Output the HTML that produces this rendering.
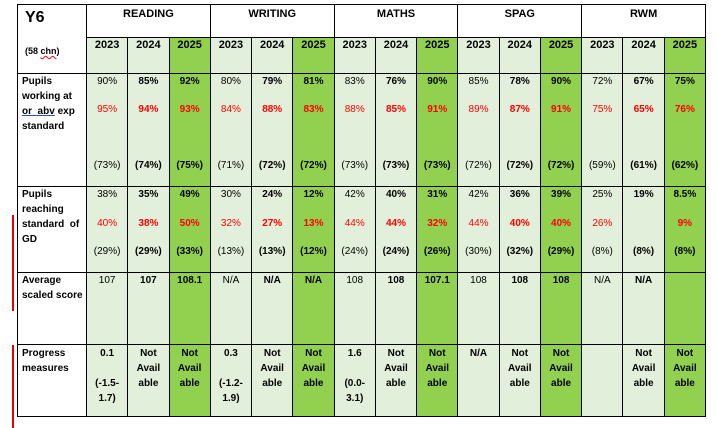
<!DOCTYPE html>
<html><head><meta charset="utf-8"><style>
body{margin:0;width:717px;height:428px;background:#fff;position:relative;font-family:"Liberation Sans",sans-serif;overflow:hidden}
table{position:absolute;left:17px;top:4px;border-collapse:collapse;table-layout:fixed;width:689px}
td{border:1px solid #000;padding:0;vertical-align:top;text-align:center;font-size:10px;line-height:15px;overflow:hidden}
.l{background:#E2EFDA}.g{background:#92D050}
.b{font-weight:bold}.r{color:#f00}
.h1 td{height:30px}.h2 td{height:35px}.r1 td{height:112px}.r2 td{height:85px}.r3 td{height:71px}.r4 td{height:70px}
.lab{text-align:left;padding-left:4px;font-weight:bold}
.vl{position:absolute;left:12px;width:2px;background:#e00}
</style></head><body>
<div class="vl" style="top:215px;height:96px"></div>
<div class="vl" style="top:345px;height:83px"></div>
<table>
<colgroup><col style="width:69px"><col span="15"></colgroup>
<tr class="h1"><td rowspan="2" class="lab" style="padding-left:7px"><div style="font-size:16px;line-height:20px;margin-top:3px">Y6</div><div style="font-size:9px;margin-top:16px">(58 <span style="text-decoration:underline wavy red">chn</span>)</div></td>
<td colspan="3" class="b" style="font-size:11px;padding-top:2px">READING</td><td colspan="3" class="b" style="font-size:11px;padding-top:2px">WRITING</td><td colspan="3" class="b" style="font-size:11px;padding-top:2px">MATHS</td><td colspan="3" class="b" style="font-size:11px;padding-top:2px">SPAG</td><td colspan="3" class="b" style="font-size:11px;padding-top:2px">RWM</td></tr>
<tr class="h2 b" style="font-size:11px"><td class="l b" style="font-size:11px">2023</td><td class="l b" style="font-size:11px">2024</td><td class="g b" style="font-size:11px">2025</td><td class="l b" style="font-size:11px">2023</td><td class="l b" style="font-size:11px">2024</td><td class="g b" style="font-size:11px">2025</td><td class="l b" style="font-size:11px">2023</td><td class="l b" style="font-size:11px">2024</td><td class="g b" style="font-size:11px">2025</td><td class="l b" style="font-size:11px">2023</td><td class="l b" style="font-size:11px">2024</td><td class="g b" style="font-size:11px">2025</td><td class="l b" style="font-size:11px">2023</td><td class="l b" style="font-size:11px">2024</td><td class="g b" style="font-size:11px">2025</td></tr>
<tr class="r1"><td class="lab">Pupils<br>working at<br><span style="text-decoration:underline;text-decoration-color:#2050d0">or &nbsp;abv</span> exp<br>standard</td>
<td class="l"><div>90%</div><div class="r" style="margin-top:13px">95%</div><div style="margin-top:41px">(73%)</div></td>
<td class="l b"><div>85%</div><div class="r" style="margin-top:13px">94%</div><div style="margin-top:41px">(74%)</div></td>
<td class="g b"><div>92%</div><div class="r" style="margin-top:13px">93%</div><div style="margin-top:41px">(75%)</div></td>
<td class="l"><div>80%</div><div class="r" style="margin-top:13px">84%</div><div style="margin-top:41px">(71%)</div></td>
<td class="l b"><div>79%</div><div class="r" style="margin-top:13px">88%</div><div style="margin-top:41px">(72%)</div></td>
<td class="g b"><div>81%</div><div class="r" style="margin-top:13px">83%</div><div style="margin-top:41px">(72%)</div></td>
<td class="l"><div>83%</div><div class="r" style="margin-top:13px">88%</div><div style="margin-top:41px">(73%)</div></td>
<td class="l b"><div>76%</div><div class="r" style="margin-top:13px">85%</div><div style="margin-top:41px">(73%)</div></td>
<td class="g b"><div>90%</div><div class="r" style="margin-top:13px">91%</div><div style="margin-top:41px">(73%)</div></td>
<td class="l"><div>85%</div><div class="r" style="margin-top:13px">89%</div><div style="margin-top:41px">(72%)</div></td>
<td class="l b"><div>78%</div><div class="r" style="margin-top:13px">87%</div><div style="margin-top:41px">(72%)</div></td>
<td class="g b"><div>90%</div><div class="r" style="margin-top:13px">91%</div><div style="margin-top:41px">(72%)</div></td>
<td class="l"><div>72%</div><div class="r" style="margin-top:13px">75%</div><div style="margin-top:41px">(59%)</div></td>
<td class="l b"><div>67%</div><div class="r" style="margin-top:13px">65%</div><div style="margin-top:41px">(61%)</div></td>
<td class="g b"><div>75%</div><div class="r" style="margin-top:13px">76%</div><div style="margin-top:41px">(62%)</div></td></tr>
<tr class="r2"><td class="lab">Pupils<br>reaching<br>standard &nbsp;of<br>GD</td>
<td class="l"><div>38%</div><div class="r" style="margin-top:14px">40%</div><div style="margin-top:13px">(29%)</div></td>
<td class="l b"><div>35%</div><div class="r" style="margin-top:14px">38%</div><div style="margin-top:13px">(29%)</div></td>
<td class="g b"><div>49%</div><div class="r" style="margin-top:14px">50%</div><div style="margin-top:13px">(33%)</div></td>
<td class="l"><div>30%</div><div class="r" style="margin-top:14px">32%</div><div style="margin-top:13px">(13%)</div></td>
<td class="l b"><div>24%</div><div class="r" style="margin-top:14px">27%</div><div style="margin-top:13px">(13%)</div></td>
<td class="g b"><div>12%</div><div class="r" style="margin-top:14px">13%</div><div style="margin-top:13px">(12%)</div></td>
<td class="l"><div>42%</div><div class="r" style="margin-top:14px">44%</div><div style="margin-top:13px">(24%)</div></td>
<td class="l b"><div>40%</div><div class="r" style="margin-top:14px">44%</div><div style="margin-top:13px">(24%)</div></td>
<td class="g b"><div>31%</div><div class="r" style="margin-top:14px">32%</div><div style="margin-top:13px">(26%)</div></td>
<td class="l"><div>42%</div><div class="r" style="margin-top:14px">44%</div><div style="margin-top:13px">(30%)</div></td>
<td class="l b"><div>36%</div><div class="r" style="margin-top:14px">40%</div><div style="margin-top:13px">(32%)</div></td>
<td class="g b"><div>39%</div><div class="r" style="margin-top:14px">40%</div><div style="margin-top:13px">(29%)</div></td>
<td class="l"><div>25%</div><div class="r" style="margin-top:14px">26%</div><div style="margin-top:13px">(8%)</div></td>
<td class="l b"><div>19%</div><div class="r" style="margin-top:14px">&nbsp;</div><div style="margin-top:13px">(8%)</div></td>
<td class="g b"><div>8.5%</div><div class="r" style="margin-top:14px">9%</div><div style="margin-top:13px">(8%)</div></td></tr>
<tr class="r3"><td class="lab">Average<br>scaled score</td>
<td class="l">107</td><td class="l b">107</td><td class="g b">108.1</td><td class="l">N/A</td><td class="l b">N/A</td><td class="g b">N/A</td><td class="l">108</td><td class="l b">108</td><td class="g b">107.1</td><td class="l">108</td><td class="l b">108</td><td class="g b">108</td><td class="l">N/A</td><td class="l b">N/A</td><td class="g"></td></tr>
<tr class="r4"><td class="lab" style="padding-top:1px">Progress<br>measures</td>
<td class="l b" style="padding-top:1px">0.1<br>&nbsp;<br>(-1.5-<br>1.7)</td><td class="l b" style="padding-top:1px">Not<br>Avail<br>able</td><td class="g b" style="padding-top:1px">Not<br>Avail<br>able</td>
<td class="l b" style="padding-top:1px">0.3<br>&nbsp;<br>(-1.2-<br>1.9)</td><td class="l b" style="padding-top:1px">Not<br>Avail<br>able</td><td class="g b" style="padding-top:1px">Not<br>Avail<br>able</td>
<td class="l b" style="padding-top:1px">1.6<br>&nbsp;<br>(0.0-<br>3.1)</td><td class="l b" style="padding-top:1px">Not<br>Avail<br>able</td><td class="g b" style="padding-top:1px">Not<br>Avail<br>able</td>
<td class="l b" style="padding-top:1px">N/A</td><td class="l b" style="padding-top:1px">Not<br>Avail<br>able</td><td class="g b" style="padding-top:1px">Not<br>Avail<br>able</td>
<td class="l"></td><td class="l b" style="padding-top:1px">Not<br>Avail<br>able</td><td class="g b" style="padding-top:1px">Not<br>Avail<br>able</td></tr>
</table>
</body></html>
